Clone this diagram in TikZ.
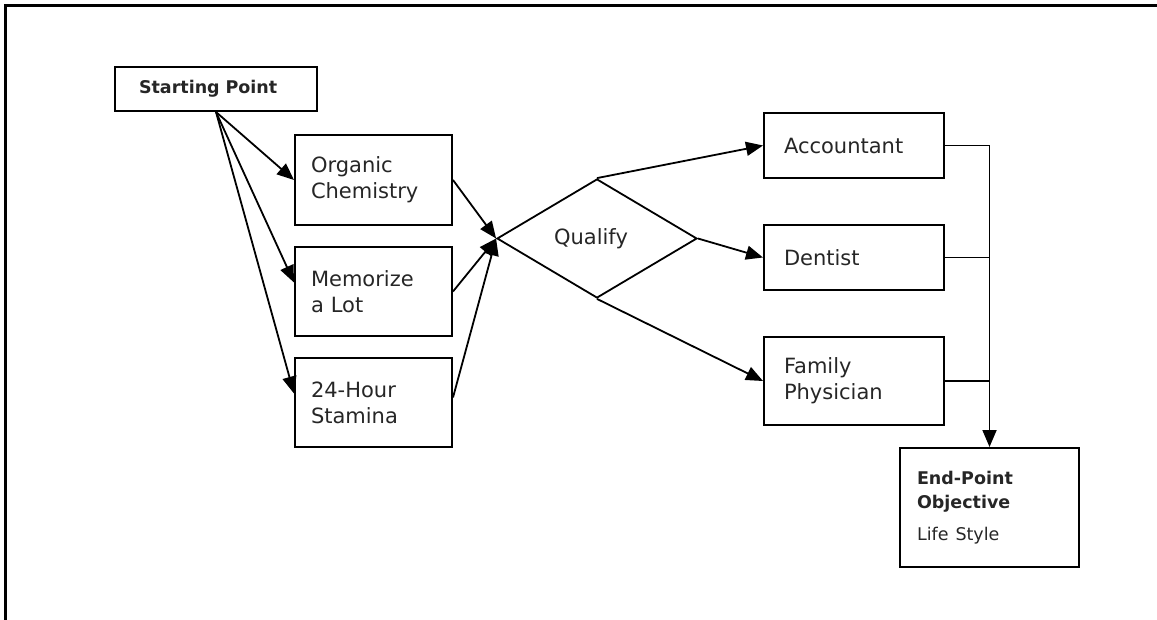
\documentclass[tikz,border=0pt]{standalone}
\usepackage{fontspec}
\setmainfont{DejaVu Sans}
\usetikzlibrary{arrows.meta,shapes.geometric,calc}
\begin{document}
\begin{tikzpicture}[x=1pt,y=-1pt,
  box/.style={draw, line width=2pt, rectangle, inner sep=0pt, align=left,
    font=\fontsize{21}{26}\selectfont, text=black!85},
  arr/.style={line width=1.8pt, -{Triangle[length=17pt,width=14pt]}},
  ln/.style={line width=1.8pt}]
\useasboundingbox (0,0) rectangle (1157,620);
\draw[line width=3pt] (1157,6) -- (5,6) -- (5,620);

\node[box, minimum width=202pt, minimum height=44pt, text width=154pt,
  font=\bfseries\fontsize{17.5}{20}\selectfont] (sp) at (216,89) {Starting Point};

\node[box, minimum width=157pt, minimum height=90pt, text width=125pt] (oc) at (373.5,180) {Organic\\Chemistry};
\node[box, minimum width=157pt, minimum height=89pt, text width=125pt] (ml) at (373.5,291.5) {Memorize\\a Lot};
\node[box, minimum width=157pt, minimum height=89pt, text width=125pt] (hs) at (373.5,402.5) {24-Hour\\Stamina};

\node[draw, ln, diamond, aspect=1.68, minimum width=200pt, minimum height=119pt, inner sep=0pt] (q) at (597,238.5) {};
\node[font=\fontsize{21}{26}\selectfont, text=black!85, inner sep=0pt] (ql) at (591,238.5) {Qualify};

\node[box, minimum width=180pt, minimum height=65pt, text width=140pt] (acc) at (854,145.5) {Accountant};
\node[box, minimum width=180pt, minimum height=65pt, text width=140pt] (den) at (854,257.5) {Dentist};
\node[box, minimum width=180pt, minimum height=88pt, text width=140pt] (fp) at (854,381) {Family\\Physician};

\node[box, minimum width=179pt, minimum height=119pt, text width=145pt] (ep) at (989.5,507.5)
  {\bfseries\fontsize{17.5}{24}\selectfont End-Point\\Objective\\[6pt]\mdseries\fontsize{17.5}{24}\selectfont Life Style};

\draw[arr] (sp.south) -- (oc.west);
\draw[arr] (sp.south) -- ($(ml.west)+(0,-9)$);
\draw[arr] (sp.south) -- ($(hs.west)+(0,-9)$);

\draw[arr] (oc.east) -- (q.west);
\draw[arr] (ml.east) -- (q.west);
\draw[arr] ($(hs.east)+(0,-5)$) -- (q.west);

\draw[arr] (q.north) -- (acc.west);
\draw[arr] (q.east) -- (den.west);
\draw[arr] (q.south) -- (fp.west);

\draw[arr] (acc.east) -| (ep.north);
\draw[ln] (den.east) -- (den.east -| ep.north);
\draw[ln] (fp.east) -- (fp.east -| ep.north);
\end{tikzpicture}
\end{document}
